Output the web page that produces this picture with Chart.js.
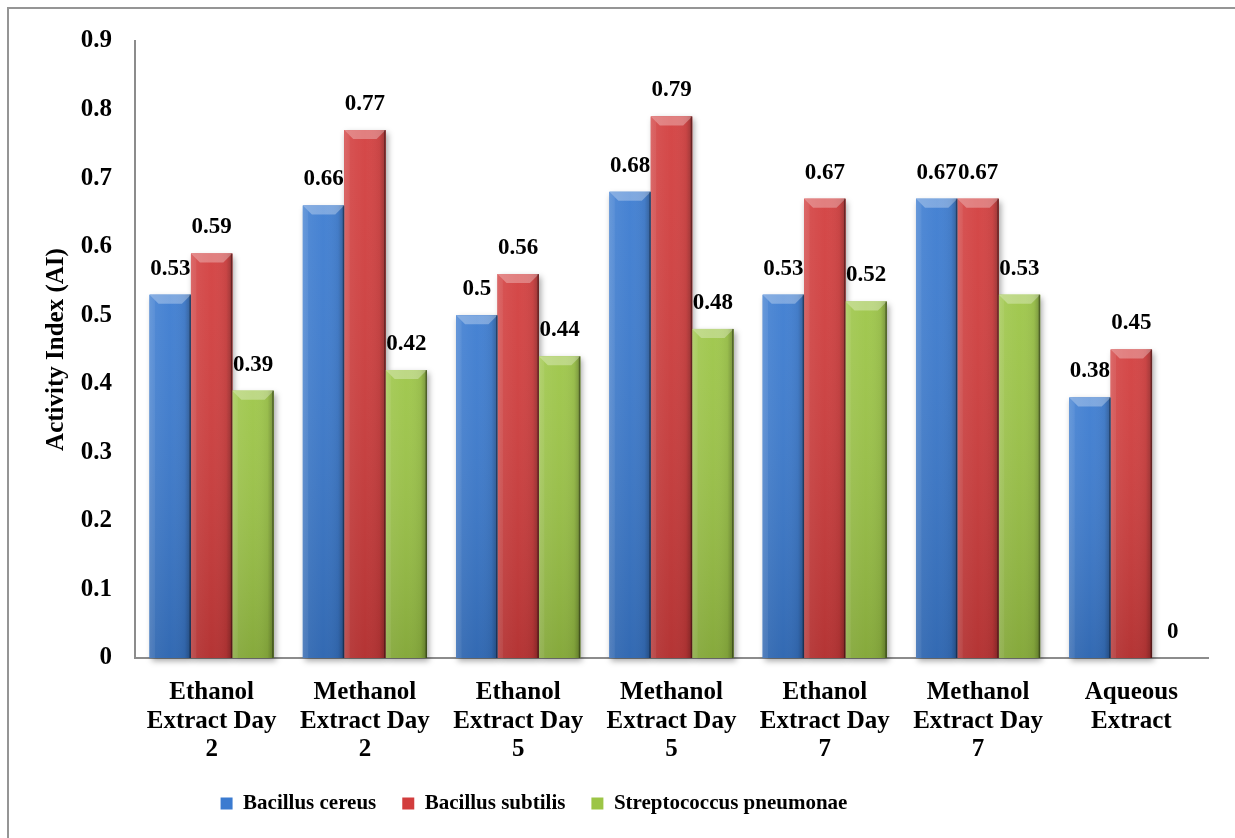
<!DOCTYPE html>
<html>
<head>
<meta charset="utf-8">
<title>Activity Index</title>
<script src="https://cdn.jsdelivr.net/npm/chart.js@4/dist/chart.umd.min.js"></script>
<style>
  html, body { margin: 0; padding: 0; background: #ffffff; overflow: hidden; }
  #wrap { position: relative; width: 1235px; height: 838px; overflow: hidden; }
  #wrap canvas { position: absolute; left: 0; top: 0; }
  #frame {
    position: absolute; left: 7px; top: 7px; width: 1300px; height: 900px;
    border-left: 2px solid #959595; border-top: 2px solid #959595;
    pointer-events: none;
  }
</style>
</head>
<body>
<div id="wrap">
  <canvas id="chart" width="1235" height="838"></canvas>
  <div id="frame"></div>
</div>
<script>
// Extract groups (multi-line tick labels)
const categories = [
  ["Ethanol", "Extract Day", "2"],
  ["Methanol", "Extract Day", "2"],
  ["Ethanol", "Extract Day", "5"],
  ["Methanol", "Extract Day", "5"],
  ["Ethanol", "Extract Day", "7"],
  ["Methanol", "Extract Day", "7"],
  ["Aqueous", "Extract"]
];

// Activity index per organism
const bacillusCereus   = [0.53, 0.66, 0.50, 0.68, 0.53, 0.67, 0.38];
const bacillusSubtilis = [0.59, 0.77, 0.56, 0.79, 0.67, 0.67, 0.45];
const streptococcusPn  = [0.39, 0.42, 0.44, 0.48, 0.52, 0.53, 0];

const seriesNames = ["Bacillus cereus", "Bacillus subtilis", "Streptococcus pneumonae"];
const yTicks = [0, 0.1, 0.2, 0.3, 0.4, 0.5, 0.6, 0.7, 0.8, 0.9];
const yTickLabels = ["0", "0.1", "0.2", "0.3", "0.4", "0.5", "0.6", "0.7", "0.8", "0.9"];

const FONT = "'Liberation Serif', 'Times New Roman', serif";
const AXIS_GREY = '#8c8c8c';

// Drop shadow behind each bar
const barShadow = {
  id: 'barShadow',
  beforeDatasetsDraw(chart) {
    const ctx = chart.ctx;
    ctx.save();
    ctx.shadowColor = 'rgba(0,0,0,0.35)';
    ctx.shadowBlur = 6;
    ctx.shadowOffsetX = 2;
    ctx.shadowOffsetY = 3;
    chart.data.datasets.forEach((ds, i) => {
      chart.getDatasetMeta(i).data.forEach(el => {
        const p = el.getProps(['x', 'y', 'base', 'width'], true);
        if (p.base - p.y < 1) return;
        ctx.fillStyle = ds.backgroundColor;
        ctx.fillRect(p.x - p.width / 2, p.y, p.width, p.base - p.y);
      });
    });
    ctx.restore();
  }
};

// Bevelled shading on top of each bar plus value labels
const barBevel = {
  id: 'barBevel',
  afterDatasetsDraw(chart) {
    const ctx = chart.ctx;
    ctx.save();
    chart.data.datasets.forEach((ds, i) => {
      const meta = chart.getDatasetMeta(i);
      meta.data.forEach((el) => {
        const p = el.getProps(['x', 'y', 'base', 'width'], true);
        const l = p.x - p.width / 2, r = p.x + p.width / 2;
        const t = p.y, b = p.base, h = b - t;
        if (h >= 1) {
          // side shading
          let g = ctx.createLinearGradient(l, 0, r, 0);
          g.addColorStop(0, 'rgba(255,255,255,0.12)');
          g.addColorStop(0.1, 'rgba(255,255,255,0.06)');
          g.addColorStop(0.5, 'rgba(255,255,255,0)');
          g.addColorStop(0.85, 'rgba(0,0,0,0.06)');
          g.addColorStop(1, 'rgba(0,0,0,0.30)');
          ctx.fillStyle = g;
          ctx.fillRect(l, t, p.width, h);
          // slight darkening toward the base
          g = ctx.createLinearGradient(0, t, 0, b);
          g.addColorStop(0, 'rgba(255,255,255,0.06)');
          g.addColorStop(1, 'rgba(0,0,0,0.14)');
          ctx.fillStyle = g;
          ctx.fillRect(l, t, p.width, h);
          // top bevel
          const bv = Math.min(9, h / 2);
          ctx.beginPath();
          ctx.moveTo(l, t); ctx.lineTo(r, t);
          ctx.lineTo(r - bv, t + bv); ctx.lineTo(l + bv, t + bv);
          ctx.closePath();
          ctx.fillStyle = 'rgba(255,255,255,0.30)';
          ctx.fill();
          // left highlight / right dark edge
          ctx.beginPath();
          ctx.moveTo(l, t); ctx.lineTo(l + bv * 0.6, t + bv * 0.6);
          ctx.lineTo(l + bv * 0.6, b); ctx.lineTo(l, b); ctx.closePath();
          ctx.fillStyle = 'rgba(255,255,255,0.07)';
          ctx.fill();
          ctx.fillStyle = 'rgba(0,0,0,0.35)';
          ctx.fillRect(r - 1.5, t, 1.5, h);
        }
      });
    });
    // value labels
    ctx.fillStyle = '#000';
    ctx.font = "bold 23px " + FONT;
    ctx.textAlign = 'center';
    ctx.textBaseline = 'middle';
    chart.data.datasets.forEach((ds, i) => {
      chart.getDatasetMeta(i).data.forEach((el, j) => {
        const p = el.getProps(['x', 'y'], true);
        ctx.fillText(String(ds.data[j]), p.x, p.y - 26);
      });
    });
    ctx.restore();
  }
};

// Legend sits a little left of the canvas centre
const legendShift = {
  id: 'legendShift',
  beforeDraw(chart) {
    const lg = chart.legend;
    if (!lg) return;
    lg.left = 0;
    lg.right = 1068;
  }
};

new Chart(document.getElementById('chart'), {
  type: 'bar',
  data: {
    labels: categories,
    datasets: [
      { label: seriesNames[0], data: bacillusCereus,   backgroundColor: '#3b7bd0' },
      { label: seriesNames[1], data: bacillusSubtilis, backgroundColor: '#d23d3d' },
      { label: seriesNames[2], data: streptococcusPn,  backgroundColor: '#9cc546' }
    ]
  },
  options: {
    responsive: false,
    animation: false,
    devicePixelRatio: 1,
    layout: { padding: { left: 40, right: 27, top: 41, bottom: 14 } },
    datasets: { bar: { categoryPercentage: 0.81, barPercentage: 1, borderWidth: 0 } },
    plugins: {
      legend: {
        position: 'bottom',
        labels: {
          color: '#000',
          font: { family: FONT, size: 21, weight: 'bold' },
          boxWidth: 12,
          boxHeight: 12,
          padding: 26
        }
      },
      tooltip: { enabled: false }
    },
    scales: {
      x: {
        grid: { display: false, drawTicks: false },
        border: { display: true, color: AXIS_GREY, width: 2 },
        ticks: {
          color: '#000',
          font: { family: FONT, size: 25, weight: 'bold', lineHeight: 1.15 },
          padding: 20,
          maxRotation: 0,
          autoSkip: false
        },
        afterFit(scale) { scale.height = 109; }
      },
      y: {
        min: 0,
        max: 0.9,
        grid: { display: false, drawTicks: false },
        border: { display: true, color: AXIS_GREY, width: 2 },
        afterBuildTicks(scale) { scale.ticks = yTicks.map(v => ({ value: v })); },
        ticks: {
          color: '#000',
          font: { family: FONT, size: 25, weight: 'bold' },
          padding: 23,
          callback: (v) => yTickLabels[yTicks.indexOf(Math.round(v * 10) / 10)]
        },
        title: {
          display: true,
          text: 'Activity Index (AI)',
          color: '#000',
          font: { family: FONT, size: 25, weight: 'bold' },
          padding: { top: 2, bottom: 0 }
        },
        afterFit(scale) { scale.width = 95; }
      }
    }
  },
  plugins: [barShadow, barBevel, legendShift]
});
</script>
</body>
</html>
